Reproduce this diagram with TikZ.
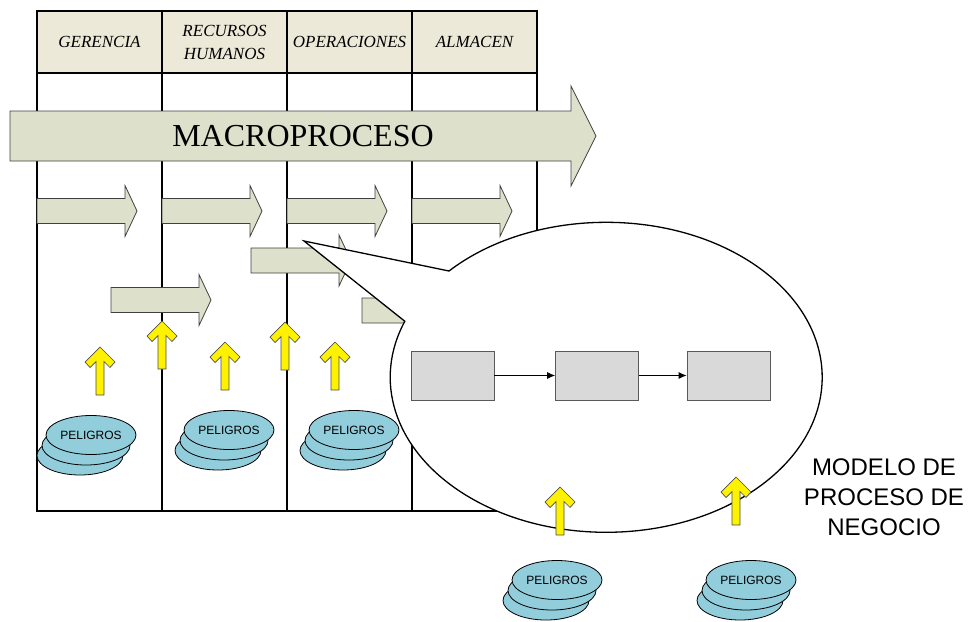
\documentclass[tikz,border=0pt]{standalone}
\usepackage{fontspec}
\setmainfont{Liberation Serif}
\setsansfont{Liberation Sans}
\usetikzlibrary{shapes.geometric,arrows.meta}

\definecolor{fondoarea}{RGB}{236,233,216}
\definecolor{fondoflecha}{RGB}{221,224,203}
\definecolor{celeste}{RGB}{146,205,220}
\definecolor{cajagris}{RGB}{217,217,217}

\begin{document}
\begin{tikzpicture}[
    x=1pt, y=-1pt,
    every node/.style={inner sep=0pt},
    AreaShape/.style={font=\fontsize{17}{23}\selectfont\itshape, align=center},
    TablaLine/.style={line width=1.3pt, draw=black},
    FlechaShape/.style={fill=fondoflecha, draw=black!75, line width=0.8pt},
    AlertaShape/.style={fill=yellow, draw=black!70, line width=0.7pt},
    PeligroShape/.style={fill=celeste, draw=black, line width=0.8pt},
    CajaShape/.style={rectangle, fill=cajagris, draw=black!65,
        line width=0.8pt, minimum width=83pt, minimum height=49pt},
    GloboShape/.style={fill=white, draw=black, line width=1.3pt},
    enlace/.style={-{Latex[length=8pt,width=7pt]}, line width=0.8pt},
    flechita/.pic={
        \path[FlechaShape] (0,-12.5) -- (88,-12.5) -- (88,-25.5) -- (100,0)
            -- (88,25.5) -- (88,12.5) -- (0,12.5) -- cycle;
    },
    alerta/.pic={
        \path[AlertaShape] (0,0) -- (15,15) -- (10,20.5) -- (4,14.5) -- (4,48)
            -- (-4,48) -- (-4,14.5) -- (-10,20.5) -- (-15,15) -- cycle;
    },
    pila/.pic={
        \path[PeligroShape] (-11,20.5) ellipse [x radius=43, y radius=19.5];
        \path[PeligroShape] (-5,10.5) ellipse [x radius=44, y radius=19.5];
        \node[PeligroShape, ellipse, minimum width=90pt, minimum height=39pt,
            font=\sffamily\fontsize{12}{14}\selectfont] (-top) at (0,0) {PELIGROS};
    }
]
\useasboundingbox (0,0) rectangle (971,621);

\fill[fondoarea] (37,11) rectangle (537,73);
\draw[TablaLine] (37,11) rectangle (537,511) (37,73) -- (537,73);
\foreach \x in {162,287,412}
    \draw[TablaLine] (\x,11) -- (\x,511);

\node[AreaShape] (ger) at (99.5,42) {GERENCIA};
\node[AreaShape] (rrhh) at (224.5,42) {RECURSOS\\HUMANOS};
\node[AreaShape] (ope) at (349.5,42) {OPERACIONES};
\node[AreaShape] (alm) at (474.5,42) {ALMACEN};

\path[FlechaShape] (10,111) -- (571,111) -- (571,86) -- (596,136)
    -- (571,186) -- (571,161) -- (10,161) -- cycle;
\node[font=\fontsize{32}{36}\selectfont] (macro) at (303,136) {MACROPROCESO};

\foreach \x in {37,162,287,412}
    \pic at (\x,211) {flechita};
\pic at (251,260.5) {flechita};
\pic at (111,300) {flechita};
\pic at (362,310.5) {flechita};

\foreach \x/\y in {100/347,162/321,225/342,285/322,335/342}
    \pic at (\x,\y) {alerta};
\pic (pel1) at (91,435) {pila};
\pic (pel2) at (229,430) {pila};
\pic (pel3) at (354,430) {pila};

\path[GloboShape] (449,271) arc[start angle=-136.7, end angle=201.2,
    x radius=216, y radius=155] -- (304,241) -- cycle;

\node[CajaShape] (caja1) at (452.5,375.5) {};
\node[CajaShape] (caja2) at (597,375.5) {};
\node[CajaShape] (caja3) at (728.5,375.5) {};
\draw[enlace] (caja1) -- (caja2);
\draw[enlace] (caja2) -- (caja3);

\pic at (560,487) {alerta};
\pic at (736,477) {alerta};
\pic (pel4) at (557,580) {pila};
\pic (pel5) at (751,580) {pila};

\node[font=\sffamily\fontsize{24}{30}\selectfont, align=center] (modelo)
    at (884,497) {MODELO DE\\PROCESO DE\\NEGOCIO};
\end{tikzpicture}
\end{document}
